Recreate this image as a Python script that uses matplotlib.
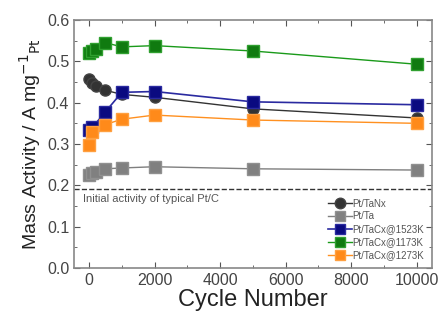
import matplotlib
matplotlib.use("Agg")
import matplotlib.pyplot as plt
from matplotlib.ticker import MultipleLocator

plt.rcParams['font.family'] = ['Liberation Sans', 'DejaVu Sans']

# cycle numbers and mass activity values (A/mg Pt)
cycles = [0, 100, 200, 500, 1000, 2000, 5000, 10000]
cycles_b = [0, 100, 500, 1000, 2000, 5000, 10000]
tanx = [0.458, 0.447, 0.440, 0.430, 0.420, 0.413, 0.385, 0.363]
ta = [0.225, 0.230, 0.233, 0.240, 0.242, 0.245, 0.240, 0.237]
tacx1523 = [0.335, 0.340, 0.378, 0.425, 0.427, 0.402, 0.395]
tacx1173 = [0.520, 0.525, 0.530, 0.545, 0.535, 0.538, 0.525, 0.493]
tacx1273 = [0.298, 0.330, 0.347, 0.360, 0.370, 0.358, 0.350]
ptc_initial = 0.19

fig = plt.figure(figsize=(4.4, 3.27), dpi=100)
ax = fig.add_axes([74/440, 1-268/327, (432-74)/440, (268-20)/327])

ms = 8
ax.plot(cycles, tanx, '-o', color='#333333', mfc='#333333', mec='#444444', ms=ms, lw=1, label='Pt/TaNx')
ax.plot(cycles, ta, '-s', color='#7f7f7f', mfc='#808080', mec='#909090', ms=ms, lw=1, label='Pt/Ta')
ax.plot(cycles_b, tacx1523, '-s', color='#2a2aa0', mfc='#0a0a80', mec='#2a2aa0', ms=ms, lw=1.2, label='Pt/TaCx@1523K')
ax.plot(cycles, tacx1173, '-s', color='#1a9a1a', mfc='#107a10', mec='#30a030', ms=ms, lw=1, label='Pt/TaCx@1173K')
ax.plot(cycles_b, tacx1273, '-s', color='#ff9020', mfc='#ff8a1a', mec='#ffa040', ms=ms, lw=1, label='Pt/TaCx@1273K')

ax.axhline(ptc_initial, color='#333333', ls='--', lw=1)
ax.text(-200, ptc_initial - 0.012, 'Initial activity of typical Pt/C', fontsize=8,
        color='#555555', va='top')

ax.set_xlim(-460, 10470)
ax.set_ylim(0.0, 0.6)
ax.xaxis.set_major_locator(MultipleLocator(2000))
ax.xaxis.set_minor_locator(MultipleLocator(1000))
ax.yaxis.set_major_locator(MultipleLocator(0.1))
ax.yaxis.set_minor_locator(MultipleLocator(0.05))
ax.yaxis.set_major_formatter(matplotlib.ticker.FormatStrFormatter('%.1f'))
ax.tick_params(which='both', direction='in', top=True, right=True, color='#555555')
ax.tick_params(which='major', length=4, labelsize=11.5, labelcolor='#444444')
ax.tick_params(which='minor', length=2)
for s in ax.spines.values():
    s.set_color('#888888')
    s.set_linewidth(1.2)

ax.set_xlabel('Cycle Number', fontsize=17, color='#222222', labelpad=1)
ax.set_ylabel('Mass Activity / A mg$^{-1}$$_{\\mathrm{Pt}}$', fontsize=14, color='#222222', labelpad=3)

leg = ax.legend(loc='lower right', fontsize=7, frameon=False, handlelength=2.4,
                handletextpad=0.1, labelspacing=0.3, borderaxespad=0.4, markerscale=0.95)
for t in leg.get_texts():
    t.set_color('#555555')

fig.savefig('out.png', dpi=100)
